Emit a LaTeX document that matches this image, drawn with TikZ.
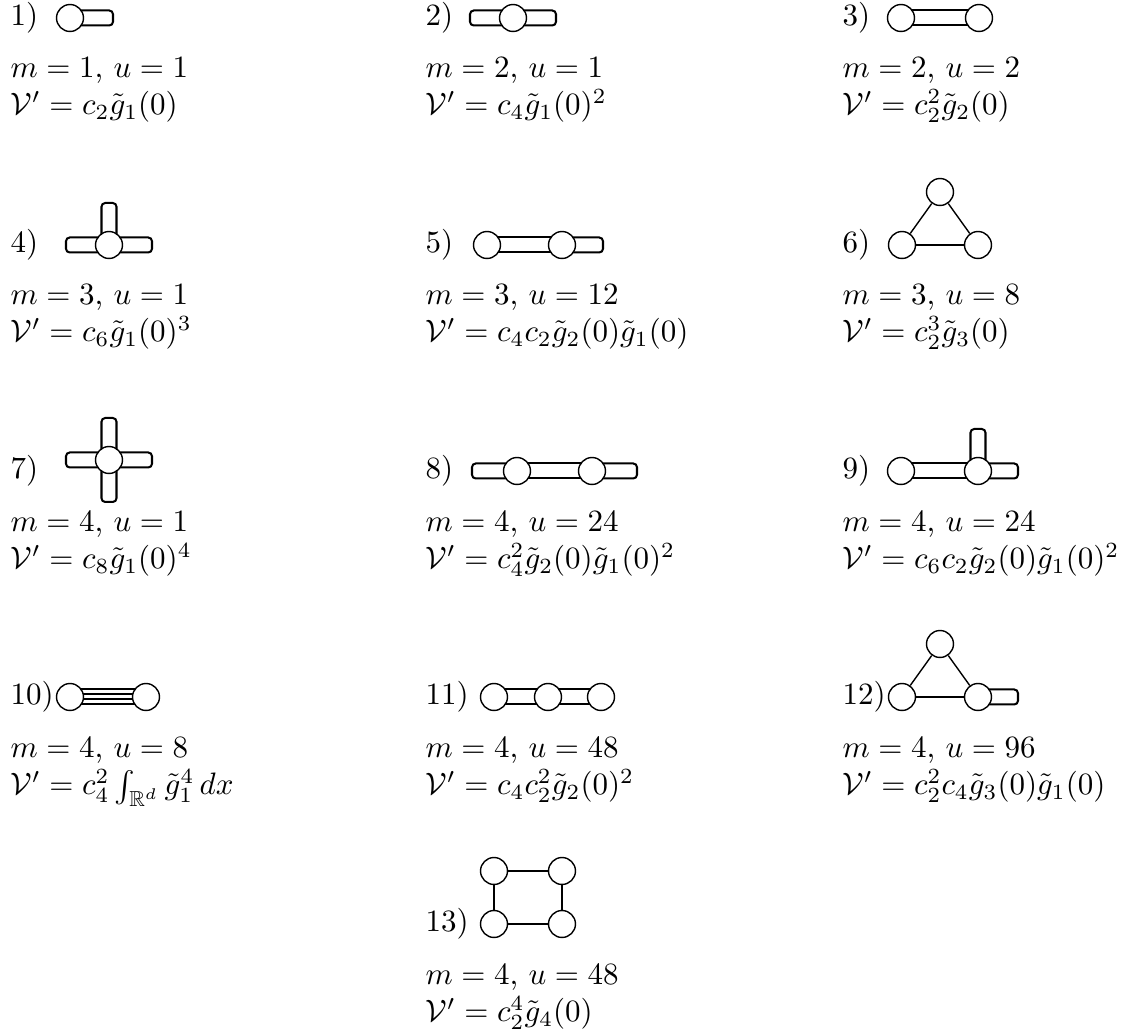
\documentclass[tikz,border=0pt]{standalone}
\usepackage{amsmath,amssymb}
\usetikzlibrary{calc,backgrounds}
\begin{document}
\begin{tikzpicture}[x=0.3226pt,y=-0.3226pt,
  vtx/.style={circle,draw,line width=0.45pt,fill=white,minimum size=8.7pt,inner sep=0pt},
  lab/.style={anchor=base west,inner sep=0pt},
  txt/.style={anchor=base west,inner sep=0pt,align=left},
  loopline/.style={line width=0.65pt,rounded corners=1.2pt},
  thinedge/.style={line width=0.45pt},
  thickedge/.style={line width=0.65pt}]
\useasboundingbox (0,0) rectangle (1122,1034);

% ---------- Row 1 ----------
\node[lab] (l1) at (10,26) {1)};
\node[vtx] (v1a) at (70,18) {};
\node[lab] (l2) at (425,26) {2)};
\node[vtx] (v2a) at (513,18) {};
\node[lab] (l3) at (842,26) {3)};
\node[vtx] (v3a) at (901,18) {};
\node[vtx] (v3b) at (979,18) {};

% ---------- Row 2 ----------
\node[lab] (l4) at (10,253) {4)};
\node[vtx] (v4a) at (109,245) {};
\node[lab] (l5) at (425,253) {5)};
\node[vtx] (v5a) at (487,245) {};
\node[vtx] (v5b) at (562,245) {};
\node[lab] (l6) at (842,253) {6)};
\node[vtx] (v6a) at (902,245) {};
\node[vtx] (v6b) at (978,245) {};
\node[vtx] (v6c) at (940,192) {};

% ---------- Row 3 ----------
\node[lab] (l7) at (10,479) {7)};
\node[vtx] (v7a) at (109,460) {};
\node[lab] (l8) at (425,479) {8)};
\node[vtx] (v8a) at (517,471) {};
\node[vtx] (v8b) at (592,471) {};
\node[lab] (l9) at (842,479) {9)};
\node[vtx] (v9a) at (901,471) {};
\node[vtx] (v9b) at (978,471) {};

% ---------- Row 4 ----------
\node[lab] (l10) at (10,705) {10)};
\node[vtx] (v10a) at (70,697) {};
\node[vtx] (v10b) at (146,697) {};
\node[lab] (l11) at (425,705) {11)};
\node[vtx] (v11a) at (494,697) {};
\node[vtx] (v11b) at (548,697) {};
\node[vtx] (v11c) at (601,697) {};
\node[lab] (l12) at (842,705) {12)};
\node[vtx] (v12a) at (902,697) {};
\node[vtx] (v12b) at (978,697) {};
\node[vtx] (v12c) at (940,644) {};

% ---------- Row 5 ----------
\node[lab] (l13) at (425,932) {13)};
\node[vtx] (v13a) at (494,871) {};
\node[vtx] (v13b) at (562,871) {};
\node[vtx] (v13c) at (494,924) {};
\node[vtx] (v13d) at (562,924) {};

\begin{pgfonlayer}{background}
% 1
\draw[loopline] ($(v1a)+(0,-7.5)$) -- ($(v1a)+(43,-7.5)$) -- ($(v1a)+(43,7.5)$) -- ($(v1a)+(0,7.5)$);
% 2
\draw[loopline] ($(v2a)+(0,-7.5)$) -- ($(v2a)+(43,-7.5)$) -- ($(v2a)+(43,7.5)$) -- ($(v2a)+(0,7.5)$);
\draw[loopline] ($(v2a)+(0,-7.5)$) -- ($(v2a)+(-43,-7.5)$) -- ($(v2a)+(-43,7.5)$) -- ($(v2a)+(0,7.5)$);
% 3
\draw[thickedge] ($(v3a)+(0,-7.5)$) -- ($(v3b)+(0,-7.5)$);
\draw[thickedge] ($(v3a)+(0,7.5)$) -- ($(v3b)+(0,7.5)$);
% 4
\draw[loopline] ($(v4a)+(0,-7.5)$) -- ($(v4a)+(43,-7.5)$) -- ($(v4a)+(43,7.5)$) -- ($(v4a)+(0,7.5)$);
\draw[loopline] ($(v4a)+(0,-7.5)$) -- ($(v4a)+(-43,-7.5)$) -- ($(v4a)+(-43,7.5)$) -- ($(v4a)+(0,7.5)$);
\draw[loopline] ($(v4a)+(-7.5,0)$) -- ($(v4a)+(-7.5,-42)$) -- ($(v4a)+(7.5,-42)$) -- ($(v4a)+(7.5,0)$);
% 5
\draw[thickedge] ($(v5a)+(0,-7.5)$) -- ($(v5b)+(0,-7.5)$);
\draw[thickedge] ($(v5a)+(0,7.5)$) -- ($(v5b)+(0,7.5)$);
\draw[loopline] ($(v5b)+(0,-7.5)$) -- ($(v5b)+(41,-7.5)$) -- ($(v5b)+(41,7.5)$) -- ($(v5b)+(0,7.5)$);
% 6
\draw[thickedge] (v6a) -- (v6b);
\draw[thinedge] (v6a) -- (v6c);
\draw[thinedge] (v6c) -- (v6b);
% 7
\draw[loopline] ($(v7a)+(0,-7.5)$) -- ($(v7a)+(43,-7.5)$) -- ($(v7a)+(43,7.5)$) -- ($(v7a)+(0,7.5)$);
\draw[loopline] ($(v7a)+(0,-7.5)$) -- ($(v7a)+(-43,-7.5)$) -- ($(v7a)+(-43,7.5)$) -- ($(v7a)+(0,7.5)$);
\draw[loopline] ($(v7a)+(-7.5,0)$) -- ($(v7a)+(-7.5,-42)$) -- ($(v7a)+(7.5,-42)$) -- ($(v7a)+(7.5,0)$);
\draw[loopline] ($(v7a)+(-7.5,0)$) -- ($(v7a)+(-7.5,42)$) -- ($(v7a)+(7.5,42)$) -- ($(v7a)+(7.5,0)$);
% 8
\draw[loopline] ($(v8a)+(0,-7.5)$) -- ($(v8a)+(-45,-7.5)$) -- ($(v8a)+(-45,7.5)$) -- ($(v8a)+(0,7.5)$);
\draw[thickedge] ($(v8a)+(0,-7.5)$) -- ($(v8b)+(0,-7.5)$);
\draw[thickedge] ($(v8a)+(0,7.5)$) -- ($(v8b)+(0,7.5)$);
\draw[loopline] ($(v8b)+(0,-7.5)$) -- ($(v8b)+(45,-7.5)$) -- ($(v8b)+(45,7.5)$) -- ($(v8b)+(0,7.5)$);
% 9
\draw[thickedge] ($(v9a)+(0,-7.5)$) -- ($(v9b)+(0,-7.5)$);
\draw[thickedge] ($(v9a)+(0,7.5)$) -- ($(v9b)+(0,7.5)$);
\draw[loopline] ($(v9b)+(-7.5,0)$) -- ($(v9b)+(-7.5,-42)$) -- ($(v9b)+(7.5,-42)$) -- ($(v9b)+(7.5,0)$);
\draw[loopline] ($(v9b)+(0,-7.5)$) -- ($(v9b)+(40,-7.5)$) -- ($(v9b)+(40,7.5)$) -- ($(v9b)+(0,7.5)$);
% 10
\foreach \dy in {-7.5,-2.5,2.5,7.5}
  \draw[thickedge] ($(v10a)+(0,\dy)$) -- ($(v10b)+(0,\dy)$);
% 11
\draw[thickedge] ($(v11a)+(0,-7.5)$) -- ($(v11b)+(0,-7.5)$);
\draw[thickedge] ($(v11a)+(0,7.5)$) -- ($(v11b)+(0,7.5)$);
\draw[thickedge] ($(v11b)+(0,-7.5)$) -- ($(v11c)+(0,-7.5)$);
\draw[thickedge] ($(v11b)+(0,7.5)$) -- ($(v11c)+(0,7.5)$);
% 12
\draw[thickedge] (v12a) -- (v12b);
\draw[thinedge] (v12a) -- (v12c);
\draw[thinedge] (v12c) -- (v12b);
\draw[loopline] ($(v12b)+(0,-7.5)$) -- ($(v12b)+(40,-7.5)$) -- ($(v12b)+(40,7.5)$) -- ($(v12b)+(0,7.5)$);
% 13
\draw[thickedge] (v13a) -- (v13b);
\draw[thickedge] (v13b) -- (v13d);
\draw[thinedge] (v13a) -- (v13c);
\draw[thinedge] (v13c) -- (v13d);
\end{pgfonlayer}

% ---------- Texts (anchored at the baseline of the second line) ----------
\node[txt] (t1) at (10,115) {$m=1$, $u=1$\\ $\mathcal{V}'=c_2\tilde g_1(0)$};
\node[txt] (t2) at (425,115) {$m=2$, $u=1$\\ $\mathcal{V}'=c_4\tilde g_1(0)^2$};
\node[txt] (t3) at (842,115) {$m=2$, $u=2$\\ $\mathcal{V}'=c_2^2\tilde g_2(0)$};

\node[txt] (t4) at (10,342) {$m=3$, $u=1$\\ $\mathcal{V}'=c_6\tilde g_1(0)^3$};
\node[txt] (t5) at (425,342) {$m=3$, $u=12$\\ $\mathcal{V}'=c_4c_2\tilde g_2(0)\tilde g_1(0)$};
\node[txt] (t6) at (842,342) {$m=3$, $u=8$\\ $\mathcal{V}'=c_2^3\tilde g_3(0)$};

\node[txt] (t7) at (10,569) {$m=4$, $u=1$\\ $\mathcal{V}'=c_8\tilde g_1(0)^4$};
\node[txt] (t8) at (425,569) {$m=4$, $u=24$\\ $\mathcal{V}'=c_4^2\tilde g_2(0)\tilde g_1(0)^2$};
\node[txt] (t9) at (842,569) {$m=4$, $u=24$\\ $\mathcal{V}'=c_6c_2\tilde g_2(0)\tilde g_1(0)^2$};

\node[txt] (t10) at (10,795) {$m=4$, $u=8$\\ $\mathcal{V}'=c_4^2\int_{\mathbb{R}^d}\tilde g_1^4\,dx$};
\node[txt] (t11) at (425,795) {$m=4$, $u=48$\\ $\mathcal{V}'=c_4c_2^2\tilde g_2(0)^2$};
\node[txt] (t12) at (842,795) {$m=4$, $u=96$\\ $\mathcal{V}'=c_2^2c_4\tilde g_3(0)\tilde g_1(0)$};

\node[txt] (t13) at (425,1022) {$m=4$, $u=48$\\ $\mathcal{V}'=c_2^4\tilde g_4(0)$};
\end{tikzpicture}
\end{document}
